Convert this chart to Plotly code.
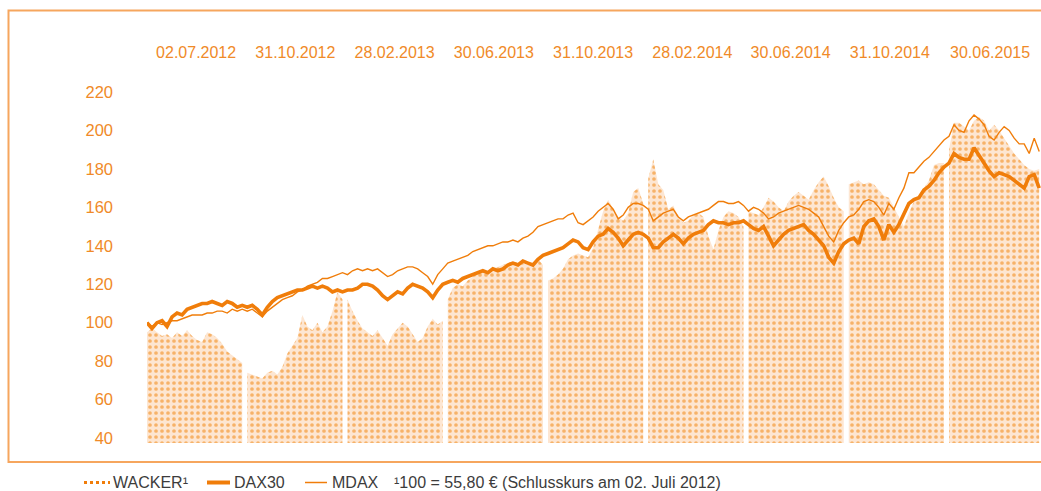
import plotly.graph_objects as go

# ---------------- data (index, 02.07.2012 = 100) ----------------
date_labels = ["02.07.2012", "31.10.2012", "28.02.2013", "30.06.2013", "31.10.2013",
               "28.02.2014", "30.06.2014", "31.10.2014", "30.06.2015"]
label_pos = [0.49, 1.48, 2.47, 3.46, 4.45, 5.44, 6.42, 7.41, 8.41]
y_ticks = [40, 60, 80, 100, 120, 140, 160, 180, 200, 220]

wacker = [
    95, 97, 95, 93, 94, 92, 95, 93, 96, 93, 91, 90, 95, 94, 92, 89, 85, 83, 81, 79,
    74, 73, 72, 71, 74, 75, 73, 77, 84, 88, 92, 104, 98, 96, 100, 95, 98, 106, 116, 112,
    112, 106, 101, 97, 95, 93, 96, 92, 88, 94, 97, 100, 98, 94, 90, 92, 98, 102, 99, 101,
    112, 118, 120, 119, 122, 124, 126, 127, 126, 128, 129, 130, 131, 132, 131, 131, 130, 131, 133, 130,
    122, 123, 125, 128, 133, 135, 136, 135, 134, 139, 148, 158, 164, 159, 155, 153, 157, 168, 170, 162,
    175, 185, 172, 169, 159, 161, 155, 152, 153, 156, 157, 155, 145, 138, 148, 155, 158, 157, 155, 150,
    158, 157, 156, 160, 165, 163, 160, 158, 163, 166, 168, 166, 164, 169, 173, 176, 171, 165, 160, 158,
    172, 173, 174, 172, 173, 172, 169, 166, 165, 160, 155, 150, 157, 163, 166, 170, 174, 182, 183, 183,
    190, 204, 204, 202, 200, 205, 207, 205, 200, 203, 200, 196, 192, 188, 185, 182, 180, 179, 180,
]
dax = [
    100, 97, 100, 101, 98, 103, 105, 104, 107, 108, 109, 110, 110, 111, 110, 109, 111, 110, 108, 109,
    108, 109, 107, 104, 108, 111, 113, 114, 115, 116, 117, 117, 118, 119, 118, 119, 118, 116, 117, 116,
    117, 117, 118, 120, 120, 119, 117, 114, 112, 114, 116, 115, 118, 120, 119, 118, 116, 113, 117, 120,
    121, 122, 121, 123, 124, 125, 126, 127, 126, 128, 127, 128, 130, 131, 130, 132, 131, 130, 133, 135,
    136, 137, 138, 139, 141, 143, 142, 139, 138, 142, 145, 146, 149, 147, 144, 140, 143, 146, 147, 146,
    144, 139, 139, 142, 144, 146, 144, 141, 144, 146, 147, 148, 151, 153, 152, 152, 151, 152, 152, 153,
    151, 149, 148, 150, 145, 140, 143, 146, 148, 149, 150, 151, 148, 146, 143, 140, 134, 131, 137, 141,
    143, 144, 141, 150, 153, 154, 150, 143, 151, 147, 151, 157, 162, 164, 165, 169, 171, 174, 178, 181,
    183, 188, 186, 185, 185, 191, 187, 183, 179, 176, 178, 177, 176, 174, 172, 170, 176, 177, 170,
]
mdax = [
    100, 98, 100, 99, 100, 101, 101, 102, 103, 104, 104, 104, 105, 105, 106, 106, 105, 107, 106, 107,
    106, 107, 105, 103, 106, 108, 110, 112, 113, 114, 116, 117, 119, 120, 121, 123, 123, 124, 125, 126,
    125, 127, 128, 127, 128, 127, 128, 126, 124, 125, 127, 128, 129, 129, 128, 126, 124, 120, 125, 128,
    131, 132, 133, 134, 135, 137, 138, 139, 140, 140, 141, 142, 142, 143, 142, 144, 145, 147, 150, 151,
    152, 153, 154, 154, 156, 157, 152, 151, 153, 155, 158, 160, 162, 159, 154, 156, 160, 162, 162, 161,
    159, 153, 155, 157, 158, 159, 155, 153, 155, 156, 157, 158, 159, 161, 163, 163, 162, 162, 163, 161,
    158, 160, 159, 157, 154, 155, 157, 158, 159, 160, 161, 160, 159, 157, 155, 150, 145, 142, 148, 152,
    155, 156, 159, 163, 164, 163, 160, 156, 162, 159, 165, 170, 178, 178, 181, 184, 186, 189, 192, 195,
    197, 203, 200, 199, 205, 208, 206, 203, 197, 195, 199, 202, 200, 196, 193, 193, 188, 196, 189,
]

# ---------------- styling ----------------
ORANGE = "#f07d0a"
TEXT_ORANGE = "#f08a28"
FRAME = "#f6a65e"
DARK = "#3c3c3c"
FONT = "Liberation Sans, Arial, sans-serif"

W, H = 1041, 491
ML, MR, MT, MB = 147, 0, 80, 48
PW, PH = W - ML - MR, H - MT - MB

SPP = 20  # samples per period column
x = [i / SPP for i in range(len(dax))]

fig = go.Figure()
# WACKER area: one filled trace per period column (white gaps between them)
for start in range(0, len(wacker), SPP):
    seg_x = x[start:start + SPP]
    seg_y = wacker[start:start + SPP]
    fig.add_trace(go.Scatter(
        x=seg_x, y=seg_y, mode="lines", fill="tozeroy",
        line=dict(width=0, color=ORANGE),
        fillpattern=dict(shape=".", fgcolor="#f07d00", bgcolor="#fde6d2",
                         size=6, solidity=0.3),
        hoverinfo="skip", showlegend=False,
    ))
fig.add_trace(go.Scatter(x=x, y=mdax, mode="lines",
                         line=dict(color=ORANGE, width=1.4), showlegend=False))
fig.add_trace(go.Scatter(x=x, y=dax, mode="lines",
                         line=dict(color=ORANGE, width=3.6), showlegend=False))


def fx(p):
    return (p - ML) / PW


def fy(q):
    return (H - MB - q) / PH


LEG_Y = 482.5
shapes = [
    dict(type="rect", xref="paper", yref="paper", x0=fx(8.5), x1=fx(1060),
         y0=fy(462), y1=fy(10.5), line=dict(color=FRAME, width=2), layer="below"),
    dict(type="line", xref="paper", yref="paper", x0=fx(84), x1=fx(110),
         y0=fy(LEG_Y), y1=fy(LEG_Y), line=dict(color=ORANGE, width=3, dash="dot")),
    dict(type="line", xref="paper", yref="paper", x0=fx(207), x1=fx(230),
         y0=fy(LEG_Y), y1=fy(LEG_Y), line=dict(color=ORANGE, width=4)),
    dict(type="line", xref="paper", yref="paper", x0=fx(305), x1=fx(327),
         y0=fy(LEG_Y), y1=fy(LEG_Y), line=dict(color=ORANGE, width=1.5)),
]

legend_texts = [
    (112, "WACKER¹"),
    (233, "DAX30"),
    (331, "MDAX"),
    (393, "¹100 = 55,80 € (Schlusskurs am 02. Juli 2012)"),
]
annotations = [
    dict(x=fx(px), y=fy(LEG_Y), xref="paper", yref="paper", text=t, showarrow=False,
         xanchor="left", yanchor="middle", borderpad=0,
         font=dict(family=FONT, size=16, color=DARK))
    for px, t in legend_texts
]

fig.update_layout(
    width=W, height=H,
    margin=dict(l=ML, r=MR, t=MT, b=MB, pad=0),
    paper_bgcolor="white", plot_bgcolor="white",
    font=dict(family=FONT, color=TEXT_ORANGE),
    shapes=shapes, annotations=annotations,
    showlegend=False,
    xaxis=dict(range=[0, PW / 100.25], side="top", tickvals=label_pos,
               ticktext=date_labels, showgrid=False, zeroline=False, showline=False,
               ticks="", ticklabelstandoff=18,
               tickfont=dict(family=FONT, size=16, color=TEXT_ORANGE)),
    yaxis=dict(range=[37.40, 226.243], tickvals=y_ticks, showgrid=False,
               zeroline=False, showline=False, ticks="", ticklabelstandoff=33,
               tickfont=dict(family=FONT, size=16.5, color=TEXT_ORANGE)),
)

fig.write_html(
    "out.html",
    config={"displayModeBar": False},
    post_script="document.body.style.margin='0';document.body.style.overflow='hidden';",
)
